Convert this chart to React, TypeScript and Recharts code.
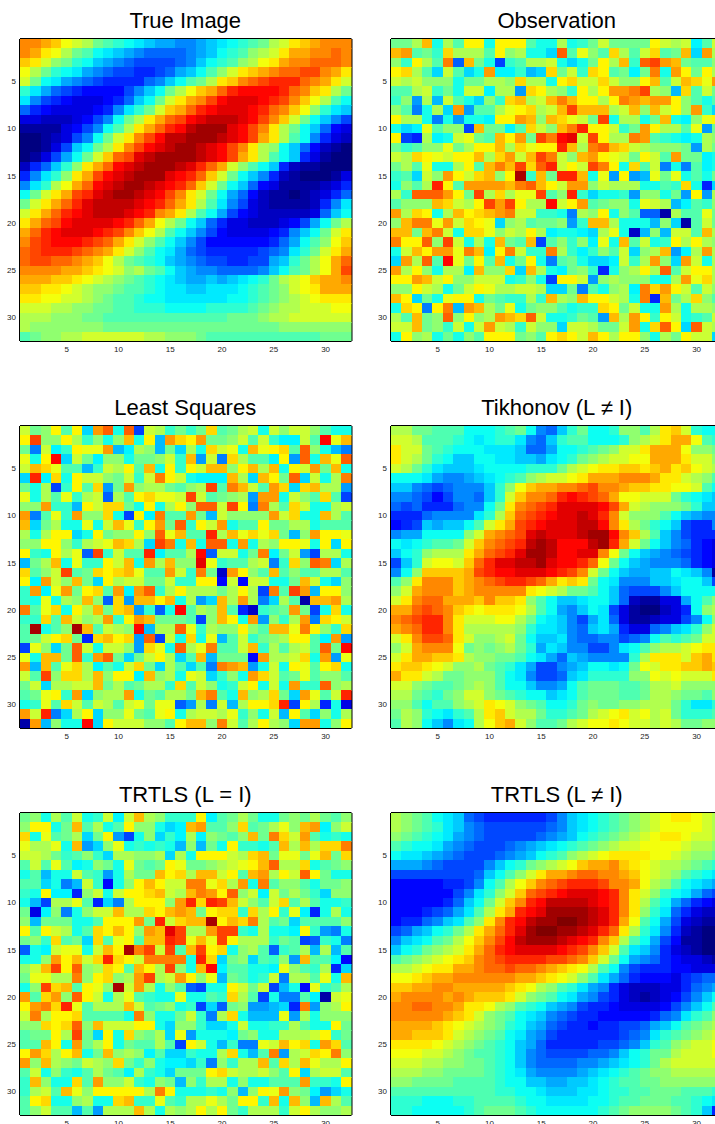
import React from "react";
import { ReferenceLine, Scatter, ScatterChart, XAxis, YAxis } from "recharts";

// each row is 32 cells, written in groups of 8. A cell is a level 0..v (base 32) on the jet scale.
const trueImage = [
  "nnmljihf edcba998 89abcdef hiklmnnn",
  "nmkjhfec ba987777 89acdegh ikmmnnon",
  "lkigfdca 98766667 8acdeghj kmnnooon",
  "jhfdcb98 76655679 acegiklm nooppnmk",
  "ifcb9876 555578ac efhklnop qqqonmki",
  "db976544 4468acfh jlmoqrrr rqonlkhf",
  "b8654333 457acfik mnprsssr qpnljhec",
  "75433334 58bdfilm oqrsssrq onljgdba",
  "33222346 8cfhkmop rstttsrp nlifca86",
  "11113468 cehkmoqr tuuusrpn khfca743",
  "0012368c fiknprtt uuutsrpm khec8532",
  "00136acf hknprstu utsrpnkh gca74210",
  "01369cfi lopstuuu utsrpmkh eca53100",
  "257adgkm orstuuut sqomigec a5211000",
  "58bdgkmp rstuuusr qolifca8 52100013",
  "8bdhjmor stuutsrq olifca74 31111235",
  "cfikmpqs tuutsrpn kifc9742 11012357",
  "fikmoqst tttsrqom kheb8632 1111258b",
  "ikmoqrst ttsrqnmk hec96432 222237ac",
  "kmoprsss srqomjhf ca753322 23469cfh",
  "moqrsssr qpnljhec a8643333 458acfik",
  "npqrrrqp omkigeca 86444444 579cegjl",
  "opqqqpon mkigecb9 76555556 78bdfikm",
  "oppoonml jhfedca9 87665566 9adfhjmo",
  "nnnnmmlk jighfeca 98877778 acefhjmp",
  "mmmllkji hgfedcba 99a9abcd fhijlmmn",
  "llkkjihg gfeedcbb aabbbcde fgijkmmm",
  "kkjjiihg feedccbb bbbbccde fghijkkk",
  "iiihhggf feedddcc ccddddef ghhiiijj",
  "hhhgggff eeeeeeee eeeefffg hhiiiiii",
  "hggggggg ffffffff ffffffff fggggggg",
  "efgghhii iiiihhgg gfeeeeee eeeeefff",
];

const observation = [
  "ffhmchek kckkkecc hcdfifff fkihibei",
  "mnefdlhh hekghcca pejgelhe ilefmanh",
  "gdkheo6m fc5dehhi cacfkhmd pqnmfeeg",
  "klheaiea cnbbd9al fidlkefb focnkfkh",
  "ihigggcf fhhglhhc kliiligg kmeimljn",
  "eehidfci ibhh8lkh gdkhknno qhg9leif",
  "dg8h9iec agdlmhim omkkhkon mnnkgece",
  "ge7chan8 eehjklhi mqmmmhim gmikgnda",
  "khhc7c8c cbkknmgm ljifqchh cfmcbgjk",
  "cabjegg5 mffbelig morkkidf nkhhej8f",
  "k54hbcij femknfqo stiqkhho nedcbchg",
  "fdeggjfh kkmhljkk rmhopmli hgggf8hf",
  "ihlkjikk mhlnimqo igmnkjif kienffbc",
  "fhejcchk emomqlpr ikiqokcl ei7c7ebc",
  "deaignki lmgkvdmf rrmcj8k8 9jfjcecf",
  "cgehrken nnnmopmk inngihhh ccedlc4a",
  "hdpppnkf qhlhjjqe grdaccd8 ggcf8k8h",
  "egggmlih kqnqkhhs iknefggc jih9bedg",
  "nhlkchmk lmnoiidd c7hgkcge 660heejf",
  "gmoojnil kjagheff g8dmmhcc c9ga0eif",
  "mmfmoicl ljgihkhb ccbahjc1 9g9iiemh",
  "okkpgqic hcmfem5e gdgbjcme icdkhkhg",
  "cimknnjo mbkoiddo hdbdgeia ghm8bhnh",
  "anhpesjf kemcfkc7 efcaabid hnganich",
  "nhkgchhb mgglamhc bfgd4cgh khpeikkh",
  "kknmikgg iiicdgc5 kki8ghgg gcchnjlh",
  "ggkihcfi kjhhiiha af7ecghb olnkieig",
  "mkafcjkk cfeddhdm hgmkkihc o4mfhlge",
  "clk7ko9n mhfjcfgg ecddlkfi ccnhchhg",
  "hemfgpgk ghnmlpic cdfe8mhn kdkicdei",
  "iimfgdic inihdigg aiihffin clpkapih",
  "ckghcfcg ekkkfgek lkimkhkk gchfkiia",
];

const leastSquares = [
  "ifgkekan pcp5ihdf dflefhic igiigecc",
  "kqggkhdg cgmck9nl knffgiei dbbiesjm",
  "f7ibdkjj n9bhg9fa hclijcmj klepgc97",
  "jcksaifb ggcffgid m8i7lhee bk8pcmjp",
  "imljee9d ihkemckd kimmgkmh mckinfmc",
  "arblckii gfidioki cbbbmham kfpaicho",
  "fch5dkel 8fnghhfe ghqeomie nlalmhh8",
  "jchejdhi 6hekljji qiefgh8n ncigele5",
  "ggndd9ki llfckchk gppiqk7o helicchi",
  "n7ejdngg lc5kboee nf9igggg nilccmhe",
  "mafhccjc imjdknfp dkinceek ffhhceee",
  "hchkkack fggkgpjm eerhmjlj lf9gnkkj",
  "ggkkgdhi jmlhaqoc mcppcnch gkkjckak",
  "kdckhj6q dieerbee hs6iicfo bfi85hhc",
  "9fhmcjdd kimcnhmg gtjdeehi 7dlgpoah",
  "legiqefl klmjeeni dof1nkge megeehhe",
  "kbnigmfa khiiffid dkk3i3ii ccfmicag",
  "dnbjnfkl enbnpdhk hhhfhkh5 oeqn9kkg",
  "dcjchgmg 6l8mmkmc h8amhnh7 ahe0mmnh",
  "oejlckhm flm8d6cs ehgme41d efnf5clc",
  "ddlemigh ndknmfff e5gmkcn8 gdhn7lki",
  "evcegvme ihgs9hhp jdhggkge mmjokgdl",
  "efiklf4l mkl8p5ic lcj9eidf ghkkebn8",
  "5jgafpic iig8ljcp hjoeeimd hehiepfs",
  "jcmmfpdn pfafikha em9fff3n hhilcn8j",
  "n9mejlhb ecilfahe ae7onm8c ickjeklc",
  "ieqgllhm gkkbmghc jiadgcnl iefjegge",
  "fiahhiim fhefhhdl eigcdikc icnddpgh",
  "efjkdnag hhncfehh fmoecmgh lfanjeir",
  "cdjeliei heijfjj6 8h7i9hkk lr5kh4c2",
  "nir7ahka ggjfejkc hiihjdgc i9keagch",
  "0n9gccsa kiiiggek mmgoiehk hganncgk",
];

const tikhonov = [
  "hhffeeec ccdefc87 adfccdgg ehklidcc",
  "iiheeedc bcddb87a deecccdg hikmmjed",
  "kiifedcc cbbba779 ccdefgii kmmmjggf",
  "kihfdcaa ccbbaa9b cdfghiij jmmmkiig",
  "ihfdbaaa bccccddd fhijkkll klmkljih",
  "cccb9889 abcdeghi ijkmmmnn nmkkihge",
  "aa876788 8adgjlmm nnopnnml lkkjjiec",
  "88764688 7adilnno qrqpomjj iiifdcba",
  "76755578 8cfknopq ssssrpmi hgggfdaa",
  "55578888 bdhlopqr sstsqnig ggeca988",
  "456a9aac eikmpqrs ssttrnkh fdca6558",
  "899ccccg imnopsts sstuurnl hea86555",
  "cbcdeefi lnopqtut rrrtuqmi fca87543",
  "acdghhhk mopqsuut rrssnjfc a9876543",
  "6adijjil oqssttus rrqojfca 98887543",
  "8cgllllm pqrrsssr qpnifca9 9aacba81",
  "egknnnlm nopqqpom klkfcb88 8aabcca6",
  "gimnnnlm nnnnnkji hffeca76 668acccc",
  "iknoommm lnllkgec aabcca72 11339ceg",
  "mmoponlk jkkkjhec 98acb631 00235cgh",
  "nopqqnki iijjhfcb a869b731 123368cg",
  "mnoqqnkh hhhhgdbb a87ab953 378abdgi",
  "iknppoki gghifcaa b8778867 8cedefii",
  "gimnnnjf gfghfd9b a88668bc eghhijkk",
  "ikmmllkh ggffecb9 7a98888d hkkkilmk",
  "kllkjigg hfedb966 89accbcf jikkllml",
  "mkkihffg ggecb866 7abddddg gjijiiik",
  "iigfeefg hgecca88 9cefffee fhhigggg",
  "hhfedfgi igfedcca bcefffee fhhgffeg",
  "ggeceegh ikjigfec cdfgffgg hhhfdbbd",
  "fhgdcbde hklihhfd defhijki jhifddde",
  "ehgca8bc hjlmigee fhijjkji ihihffgg",
];

const trtlsIdentity = [
  "fgcheicd ibimhgdd dkbefhfc cfgfhfeg",
  "gkkcfmeh cekggcab mneeglef hjgmnbgi",
  "lcjefhaf k85cgadb hbgfegmf olinecdc",
  "jhhjcm8a gjcdcdc9 g9fckddc emhmhllo",
  "iihfdegd ahhgghah ckkkihlm fjjfjmfl",
  "eiejebcg fcjfefkj ffghijkm phhlcefg",
  "ce9ccied 8chffmkl hmmikemn hkipkfcc",
  "eeac79id 3cgkmkii oojlhnco eggecffg",
  "dckbb4gi cikklmih monkpgib ifhfdagg",
  "c95hhje4 a7hkkkgn rlrqmige ileheccd",
  "f2bg7cgi imhhlkmn mfklldlh kdjb4chc",
  "g9fffcce kkknfril mmvkmloh efaeeeeg",
  "kekihcel kmkgnmtq hhnqqdch ccbkd87c",
  "fgdlefal ejkemmrq jmjqkhhh dfe56dc7",
  "6cbijjci mkvoqiqe mqklcghe 6deh9h9e",
  "ccgnkmil rlkioooo crlafgae dg8meeb3",
  "gimqkpgh lkemkhqg cmsbeecc bjgedh4a",
  "fjjhhogk lghnqhin kgj9fecd i7hhejcm",
  "cgqlmekj gvinhcge 65cckifi 59c3jdeh",
  "nelngpki chjedccj ccedlhe5 c77eb0ij",
  "knolrjeh hhmiefgc d5a6fg88 9a4o8ghk",
  "iohkklee eecogccf id7hlc99 9j8hcggg",
  "gglklpgm iiikkcag gdaacicc ddhecckf",
  "effkhqfa kclgfhaj 8cccbfgc chhhikdf",
  "eemkcnfh kcfeehe5 kic9d77j imklcnle",
  "knlhkmcf mghgbeaa dcchlc9e o8hilkog",
  "ngmhgfih glfdgcbb ad7gdhhm elhmjhhk",
  "eicgdceh febhdcaf ffklihhi gekahiie",
  "dmgcclen ggidcgf9 gdhhcgcc eeenddck",
  "dhiemjgk kkkkhokc ccdcg9gk jngfb8ac",
  "eklccghc clmddjed hhjhfkkd mcmg9mhe",
  "egiee9e8 hhhmhchg hkhkfdhh hdikhggh",
];

const trtlsSmooth = [
  "hgfecba7 65555556 8abcdefg hijkkjih",
  "hgfedba8 76666667 8abcdefg hijjjjih",
  "gfedcb98 76666678 9acdefgh ijkkjiih",
  "edccb987 666789ab cdefghii jjjjihhg",
  "cbba9876 66789acd eghijkkk kjjihggf",
  "99987666 68acdfgh ijlmmnlk jihhgfed",
  "66666666 7acegikm mnoonnml jihgedcb",
  "44444556 8cehjlno pqqqpnnm jhgecba9",
  "44444468 bdgilopq rsssrqnk igdcb976",
  "4444457a cfilnqrt tttsrqnk hec97543",
  "4445679b ehkmqrsu uuutsqnk gdb75322",
  "45578abe gknqrtuu vvutsqmj ec963211",
  "679acdfh kmoqsuvv uutsqokh db852100",
  "8abcefhj lnprtuuu tsrqnlhe c9641100",
  "acdfghik moqrssss rqpnlieb a8532100",
  "efghijkl nopqqqqp ponlifc9 87543321",
  "hhijkkmm noopoonm lkjhec86 55544333",
  "jjklmmnn nnnnmmlk jigeb975 44435677",
  "llmmnnmm mmmlkjhg edb98532 22335789",
  "mnnnnmnm lllkigfe cb986532 123468ac",
  "nnoonnmk kjhgedca 98655433 33468ace",
  "nnnnnmlk igfecba8 76554444 4578bdeg",
  "mmmmlkji hgfdca97 65545566 79acefgh",
  "mmlllkih gfecb986 55555567 8bdefghi",
  "kkkkjihg fedca975 55556678 adeghiij",
  "jjjiihgf eedca876 666778ac dffhiiij",
  "iiihhggf fedca877 77889abc dfhiiiii",
  "hhhggfff fedcb988 889abcde fgghhhhh",
  "ggffffee eedccaa9 9aabcdee ffgggggg",
  "eeeeeeee eeddccba aabbcdde efffeeed",
  "dddcccdd eeeedccb bbbccdee fffeedcb",
  "ddcccccd efffedcc ccccdefg gggfeda5",
];

const tickValues = [5, 10, 15, 20, 25, 30];

// the noisy panels read a bit too contrasty by eye, contrast pulls them back to the reference
const panels = [
  { title: "True Image", rows: trueImage, left: 19.5, top: 39, contrast: 1 },
  { title: "Observation", rows: observation, left: 391, top: 39, contrast: 0.92 },
  { title: "Least Squares", rows: leastSquares, left: 19.5, top: 425.5, contrast: 0.92 },
  { title: "Tikhonov (L ≠ I)", rows: tikhonov, left: 391, top: 425.5, contrast: 1 },
  { title: "TRTLS (L = I)", rows: trtlsIdentity, left: 19.5, top: 812.5, contrast: 0.92 },
  { title: "TRTLS (L ≠ I)", rows: trtlsSmooth, left: 391, top: 812.5, contrast: 1 },
];

const PLOT_W = 331.5;
const PLOT_H = 302;
const GUTTER_L = 20;
const GUTTER_T = 6;
const GUTTER_B = 16;
const CELL_W = PLOT_W / 32;
const CELL_H = PLOT_H / 32;
const fontFamily = "'Liberation Sans', Arial, sans-serif";

const ramp = (t: number) => Math.round(255 * Math.max(0, Math.min(1, t)));

// matlab jet
const jet = (level: number) => {
  const v = level / 31;
  const r = ramp(Math.min(4 * v - 1.5, -4 * v + 4.5));
  const g = ramp(Math.min(4 * v - 0.5, -4 * v + 3.5));
  const b = ramp(Math.min(4 * v + 0.5, -4 * v + 2.5));
  return `rgb(${r},${g},${b})`;
};

const toCells = (rows: string[], contrast: number) =>
  rows.flatMap((row, r) =>
    row
      .replace(/ /g, "")
      .split("")
      .map((c, i) => ({
        x: i + 1,
        y: r + 1,
        level: 15.5 + (parseInt(c, 32) - 15.5) * contrast,
      }))
  );

const CellShape = (props: any) => (
  <rect
    x={props.cx - CELL_W / 2}
    y={props.cy - CELL_H / 2}
    width={CELL_W + 0.5}
    height={CELL_H + 0.5}
    fill={jet(props.payload.level)}
    shapeRendering="crispEdges"
  />
);

const tickStyle = { fontSize: 8, fill: "#222", fontFamily };

const Panel = ({ title, rows, left, top, contrast }: (typeof panels)[number]) => (
  <>
    <div
      style={{
        position: "absolute",
        left: left,
        top: top - 31,
        width: PLOT_W,
        textAlign: "center",
        fontFamily,
        fontSize: 22,
        lineHeight: "26px",
        color: "#000",
        whiteSpace: "nowrap",
      }}
    >
      {title}
    </div>
    <div style={{ position: "absolute", left: left - GUTTER_L, top: top - GUTTER_T }}>
      <ScatterChart
        width={GUTTER_L + PLOT_W + 6}
        height={GUTTER_T + PLOT_H + GUTTER_B}
        margin={{ top: GUTTER_T, right: 6, bottom: 0, left: 0 }}
      >
        <XAxis
          type="number"
          dataKey="x"
          domain={[0.5, 32.5]}
          ticks={tickValues}
          interval={0}
          allowDataOverflow
          height={GUTTER_B}
          tick={tickStyle}
          tickSize={-3}
          tickMargin={8}
          axisLine={false}
          tickLine={{ stroke: "#000" }}
        />
        <YAxis
          type="number"
          dataKey="y"
          domain={[0.5, 32.5]}
          reversed
          ticks={tickValues}
          interval={0}
          allowDataOverflow
          width={GUTTER_L}
          tick={tickStyle}
          tickSize={-3}
          tickMargin={7}
          axisLine={false}
          tickLine={{ stroke: "#000" }}
        />
        <Scatter data={toCells(rows, contrast)} shape={CellShape} isAnimationActive={false} />
        <ReferenceLine x={0.5} stroke="#000" strokeWidth={2} />
        <ReferenceLine x={32.5} stroke="#000" strokeWidth={2} />
        <ReferenceLine y={0.5} stroke="#000" strokeWidth={2} />
        <ReferenceLine y={32.5} stroke="#000" strokeWidth={2} />
      </ScatterChart>
    </div>
  </>
);

export default function App() {
  return (
    <div
      style={{
        position: "absolute",
        left: 0,
        top: 0,
        width: 715,
        height: 1124,
        overflow: "hidden",
        background: "#fff",
      }}
    >
      {panels.map((p) => (
        <Panel key={p.title} {...p} />
      ))}
    </div>
  );
}
